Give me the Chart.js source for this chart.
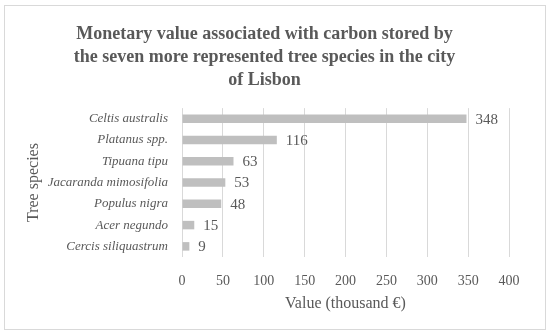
<!DOCTYPE html>
<html>
<head>
<meta charset="utf-8">
<script src="https://cdn.jsdelivr.net/npm/chart.js@4.4.0/dist/chart.umd.min.js"></script>
<style>
  html, body { margin: 0; padding: 0; background: #fff; }
  #wrap { width: 550px; height: 335px; }
</style>
</head>
<body>
<div id="wrap"><canvas id="chart" width="550" height="335"></canvas></div>
<script>
const species = ['Celtis australis', 'Platanus spp.', 'Tipuana tipu', 'Jacaranda mimosifolia',
  'Populus nigra', 'Acer negundo', 'Cercis siliquastrum'];
const values = [348, 116, 63, 53, 48, 15, 9];
const titleLines = ['Monetary value associated with carbon stored by',
  'the seven more represented tree species in the city', 'of Lisbon'];

const textColor = '#595959';
const serif = "'Liberation Serif', 'Times New Roman', serif";

// light grey frame round the whole chart
const framePlugin = {
  id: 'frame',
  beforeDraw(chart) {
    const c = chart.ctx;
    c.save();
    c.fillStyle = '#fff';
    c.fillRect(0, 0, chart.width, chart.height);
    c.strokeStyle = '#d9d9d9';
    c.lineWidth = 1;
    c.strokeRect(4.5, 5.5, 541, 324);
    c.restore();
  }
};

// value labels after each bar
const valueLabels = {
  id: 'valueLabels',
  afterDatasetsDraw(chart) {
    const c = chart.ctx;
    const meta = chart.getDatasetMeta(0);
    c.save();
    c.font = '15px ' + serif;
    c.fillStyle = textColor;
    c.textAlign = 'left';
    c.textBaseline = 'middle';
    meta.data.forEach((bar, i) => {
      c.fillText(values[i], bar.x + 9, bar.y + 1);
    });
    c.restore();
  }
};

new Chart(document.getElementById('chart'), {
  type: 'bar',
  data: {
    labels: species,
    datasets: [{
      data: values,
      backgroundColor: '#bfbfbf',
      categoryPercentage: 1,
      barPercentage: 0.4
    }]
  },
  options: {
    indexAxis: 'y',
    responsive: false,
    animation: false,
    layout: { padding: { left: 20, right: 41, top: 0, bottom: 22 } },
    plugins: {
      legend: { display: false },
      tooltip: { enabled: false },
      title: {
        display: true,
        text: titleLines,
        color: textColor,
        font: { family: serif, size: 18, weight: 'bold', lineHeight: 1.28 },
        padding: { top: 23, bottom: 16 }
      }
    },
    scales: {
      x: {
        min: 0,
        max: 400,
        ticks: { stepSize: 50, color: textColor, padding: 16, font: { family: serif, size: 14 } },
        grid: { color: '#d9d9d9', drawTicks: false },
        border: { display: false },
        title: {
          display: true,
          text: 'Value (thousand €)',
          color: textColor,
          font: { family: serif, size: 16 },
          padding: { top: 6, bottom: 0 }
        },
        afterFit(scale) { scale.height = 56; }
      },
      y: {
        ticks: { color: textColor, padding: 14, font: { family: serif, size: 13, style: 'italic' } },
        grid: { display: false, drawTicks: false },
        border: { display: false },
        title: {
          display: true,
          text: 'Tree species',
          color: textColor,
          font: { family: serif, size: 16 },
          padding: { top: 4, bottom: 0 }
        },
        afterFit(scale) { scale.width = 162; }
      }
    }
  },
  plugins: [framePlugin, valueLabels]
});
</script>
</body>
</html>
